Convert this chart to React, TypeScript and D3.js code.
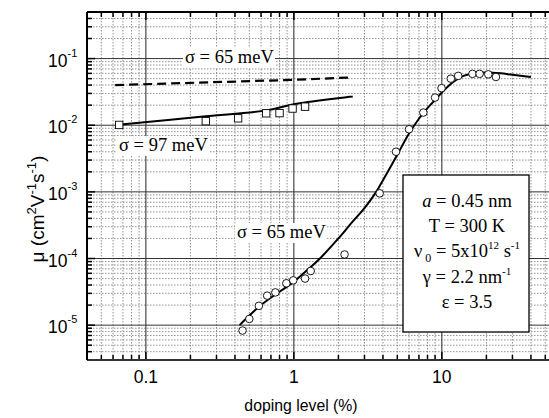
import React from "react";
import * as d3 from "d3";

// sigma = 97 meV data (squares)
const sqX = [0.066, 0.254, 0.42, 0.65, 0.8, 0.98, 1.19];
const sqY = [0.0101, 0.0115, 0.0127, 0.0151, 0.0152, 0.0178, 0.019];

// sigma = 65 meV data (circles)
const ciX = [0.45, 0.5, 0.58, 0.66, 0.75, 0.89, 0.99, 1.19, 1.3, 2.2, 3.8, 4.9, 6.0, 7.5, 9.0, 9.95, 11.5, 12.9, 16.1, 18, 20.6, 23.2];
const ciY = [8.3e-6, 1.24e-5, 1.95e-5, 2.77e-5, 3.1e-5, 4.25e-5, 4.7e-5, 5e-5, 6.5e-5, 1.15e-4, 9.5e-4, 4e-3, 8.7e-3, 0.0155, 0.026, 0.036, 0.05, 0.055, 0.059, 0.059, 0.058, 0.053];

// model curves
const fit65X = [0.43, 0.6, 1.0, 1.25, 1.5, 2.0, 2.5, 3.0, 3.6, 4.0, 5.0, 6.0, 7.0, 8.0, 9.0, 10, 11, 12, 14, 17, 20, 25, 30, 40];
const fit65Y = [1e-5, 2e-5, 4.5e-5, 6.9e-5, 1e-4, 2e-4, 3.6e-4, 5.7e-4, 1e-3, 1.5e-3, 3.6e-3, 7.5e-3, 0.0125, 0.018, 0.024, 0.031, 0.038, 0.045, 0.055, 0.061, 0.062, 0.06, 0.057, 0.053];
const fit97X = [0.065, 0.254, 0.65, 1.0, 2.5];
const fit97Y = [0.0102, 0.0136, 0.0167, 0.0206, 0.027];
const dash65X = [0.062, 1.0, 2.4];
const dash65Y = [0.04, 0.048, 0.052];

const xTicks = [0.1, 1, 10];
const xTickLabels = ["0.1", "1", "10"];
const yTickExp = [-1, -2, -3, -4, -5];

const W = 549, H = 418;
const L = 87, T = 12, B = 360;

export default function App() {
  const x = d3.scaleLog().domain([0.04, 60]).range([L, 557]);
  const y = d3.scaleLog().domain([3e-6, 0.5]).range([B, T]);
  const R = W;

  const xMinor: number[] = [];
  for (let e = -2; e <= 1; e++) for (let k = 2; k <= 9; k++) {
    const v = k * Math.pow(10, e);
    if (v > 0.04 && v < 60) xMinor.push(v);
  }
  const yMinor: number[] = [];
  for (let e = -6; e <= -1; e++) for (let k = 2; k <= 9; k++) {
    const v = k * Math.pow(10, e);
    if (v > 3e-6 && v < 0.5) yMinor.push(v);
  }

  const line = d3.line<[number, number]>().x(d => x(d[0])).y(d => y(d[1])).curve(d3.curveCatmullRom);
  const fit65 = line(fit65X.map((v, i) => [v, fit65Y[i]]));
  const fit97 = line(fit97X.map((v, i) => [v, fit97Y[i]]));
  const dash65 = d3.line<[number, number]>().x(d => x(d[0])).y(d => y(d[1]))(dash65X.map((v, i) => [v, dash65Y[i]]));

  const serif = "'Liberation Serif', 'DejaVu Serif', serif";
  const sans = "'Liberation Sans', Arial, sans-serif";

  const label = (tx: number, ty: number, s: string, w: number) => (
    <g>
      <rect x={tx - 2} y={ty - 15} width={w} height={20} fill="white" />
      <text x={tx} y={ty} fontFamily={serif} fontSize={18.5}>{s}</text>
    </g>
  );

  return (
    <svg width={W} height={H} style={{ position: "absolute", left: 0, top: 0, background: "white" }}>
      <defs>
        <clipPath id="plot"><rect x={L} y={T} width={R - L} height={B - T} /></clipPath>
      </defs>
      <rect width={W} height={H} fill="white" />
      <g clipPath="url(#plot)">
        {xMinor.map(v => (
          <line key={"xm" + v} x1={x(v)} x2={x(v)} y1={T} y2={B} stroke="#777" strokeWidth={0.8} strokeDasharray="1.5,1.5" />
        ))}
        {yMinor.map(v => (
          <line key={"ym" + v} x1={L} x2={R} y1={y(v)} y2={y(v)} stroke="#777" strokeWidth={0.8} strokeDasharray="1.5,1.5" />
        ))}
        {xTicks.map(v => (
          <line key={"xM" + v} x1={x(v)} x2={x(v)} y1={T} y2={B} stroke="#222" strokeWidth={1} />
        ))}
        {yTickExp.map(e => (
          <line key={"yM" + e} x1={L} x2={R} y1={y(Math.pow(10, e))} y2={y(Math.pow(10, e))} stroke="#333" strokeWidth={1} />
        ))}

        {label(185, 63, "σ = 65 meV", 92)}
        {label(119, 151, "σ = 97 meV", 92)}
        {label(237, 238, "σ = 65 meV", 92)}

        <path d={dash65 || ""} fill="none" stroke="black" strokeWidth={2.2} strokeDasharray="9,5" />
        <path d={fit97 || ""} fill="none" stroke="black" strokeWidth={2} />
        <path d={fit65 || ""} fill="none" stroke="black" strokeWidth={2} />

        {sqX.map((v, i) => (
          <rect key={"s" + i} x={x(v) - 3.7} y={y(sqY[i]) - 3.7} width={7.4} height={7.4} fill="white" stroke="black" strokeWidth={0.9} />
        ))}
        {ciX.map((v, i) => (
          <circle key={"c" + i} cx={x(v)} cy={y(ciY[i])} r={3.8} fill="white" stroke="black" strokeWidth={0.9} />
        ))}

        {/* ticks */}
        {xMinor.map(v => (
          <g key={"xt" + v}>
            <line x1={x(v)} x2={x(v)} y1={B} y2={B - 5} stroke="black" strokeWidth={1.5} />
            <line x1={x(v)} x2={x(v)} y1={T} y2={T + 5} stroke="black" strokeWidth={1.5} />
          </g>
        ))}
        {xTicks.map(v => (
          <g key={"xT" + v}>
            <line x1={x(v)} x2={x(v)} y1={B} y2={B - 8} stroke="black" strokeWidth={1.5} />
            <line x1={x(v)} x2={x(v)} y1={T} y2={T + 8} stroke="black" strokeWidth={1.5} />
          </g>
        ))}
        {yMinor.map(v => (
          <line key={"yt" + v} x1={L} x2={L + 5} y1={y(v)} y2={y(v)} stroke="black" strokeWidth={1.5} />
        ))}
        {yTickExp.map(e => (
          <line key={"yT" + e} x1={L} x2={L + 8} y1={y(Math.pow(10, e))} y2={y(Math.pow(10, e))} stroke="black" strokeWidth={1.5} />
        ))}
      </g>

      {/* frame */}
      <line x1={L} x2={R} y1={T} y2={T} stroke="black" strokeWidth={2} />
      <line x1={L} x2={R} y1={B} y2={B} stroke="#333" strokeWidth={2} />
      <line x1={L} x2={L} y1={T} y2={B} stroke="black" strokeWidth={2} />

      {/* parameter box */}
      <rect x={403} y={175} width={126} height={157} fill="white" stroke="black" strokeWidth={1.3} />
      <g fontFamily={serif} fontSize={18.5} textAnchor="middle">
        <text x={467} y={207}><tspan fontStyle="italic">a</tspan> = 0.45 nm</text>
        <text x={467} y={232}>T = 300 K</text>
        <text x={467} y={257}>ν<tspan fontSize={12} dy={5}> 0</tspan><tspan dy={-5}> = 5x10</tspan><tspan fontSize={11} dy={-8}>12</tspan><tspan dy={8}> s</tspan><tspan fontSize={11} dy={-8}>-1</tspan></text>
        <text x={467} y={283}>γ = 2.2 nm<tspan fontSize={11} dy={-8}>-1</tspan></text>
        <text x={467} y={308}>ε = 3.5</text>
      </g>

      {/* tick labels */}
      <g fontFamily={sans} fontSize={17.5}>
        {xTicks.map((v, i) => (
          <text key={"xl" + v} x={x(v)} y={383} textAnchor="middle">{xTickLabels[i]}</text>
        ))}
        {yTickExp.map(e => (
          <text key={"yl" + e} x={48} y={y(Math.pow(10, e)) + 8}>10<tspan fontSize={11} dy={-10}>{e}</tspan></text>
        ))}
      </g>

      <text x={301} y={411} fontFamily={sans} fontSize={15.8} textAnchor="middle">doping level (%)</text>
      <text transform={`translate(44, 209) rotate(-90)`} fontFamily={sans} fontSize={19} textAnchor="middle">
        μ (cm<tspan fontSize={13} dy={-8}>2</tspan><tspan dy={8}>V</tspan><tspan fontSize={13} dy={-8}>-1</tspan><tspan dy={8}>s</tspan><tspan fontSize={13} dy={-8}>-1</tspan><tspan dy={8}>)</tspan>
      </text>
    </svg>
  );
}
